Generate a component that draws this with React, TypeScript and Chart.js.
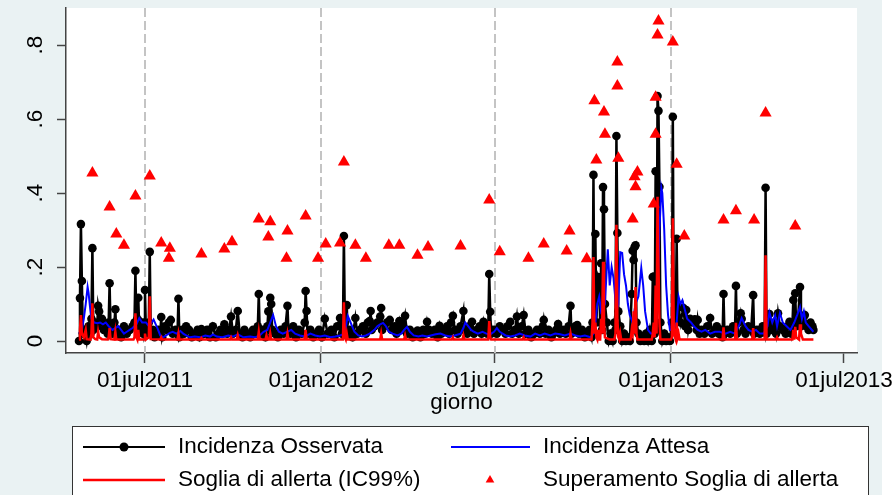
import { useEffect, useRef } from 'react';
import { Chart, registerables } from 'chart.js';

Chart.register(...registerables);

// Day numbers are offsets from BASE_DAY (Stata date: days since 01jan1960)
const BASE_DAY = 18740;
const X_MIN = -13.6;
const X_MAX = 813.6;
const Y_MIN = -0.0324;
const Y_MAX = 0.9;
const xTickDays = [69, 253, 435, 619, 800];
const dashedDays = [69, 253, 435, 619];
const yTicks = [0, 0.2, 0.4, 0.6, 0.8];
const yTickLabels = ['0', '.2', '.4', '.6', '.8'];
const xAxisTitle = 'giorno';
const legendLabels = [
  'Incidenza Osservata',
  'Incidenza Attesa',
  'Soglia di allerta (IC99%)',
  'Superamento Soglia di allerta',
];

const observed: [number, number][] = [
  [0,0],[1,0.116],[2,0.316],[3,0.162],[4,0.02],[6,0.03],[8,0],[10,0.04],[12,0.02],[13,0.06],[14,0.251],[15,0.03],
  [17,0.05],[19,0.04],[20,0.095],[21,0.08],[22,0.05],[24,0.06],[26,0.03],[28,0.04],[30,0.02],[31,0.05],[32,0.156],
  [33,0.03],[35,0.02],[37,0.05],[38,0.086],[39,0.02],[41,0.03],[44,0.01],[47,0.04],[50,0.02],[53,0.03],[56,0.04],
  [58,0.05],[59,0.19],[60,0.04],[61,0.06],[62,0.117],[63,0.03],[65,0.05],[67,0.02],[68,0.05],[69,0.138],[70,0.02],
  [72,0.03],[73,0.05],[74,0.241],[75,0.02],[77,0.03],[79,0.01],[81,0.02],[83,0.03],[85,0.02],[86,0.065],[87,0.01],
  [90,0.04],[92,0.03],[94,0.05],[96,0.057],[98,0.02],[101,0.03],[103,0.02],[104,0.114],[105,0.01],[108,0.03],
  [110,0.02],[112,0.04],[115,0.03],[118,0.01],[121,0.02],[124,0.03],[126,0.01],[128,0.032],[131,0.02],[134,0.03],
  [137,0.01],[140,0.04],[143,0.01],[146,0.02],[148,0.03],[150,0.02],[152,0.045],[155,0.02],[157,0.03],[159,0.066],
  [161,0.02],[164,0.03],[166,0.081],[168,0.02],[171,0.01],[173,0.03],[176,0.02],[179,0.01],[182,0.03],[185,0.02],
  [187,0.04],[188,0.127],[189,0.02],[192,0.03],[195,0.01],[197,0.04],[198,0.08],[199,0.03],[200,0.117],[201,0.1],
  [202,0.03],[205,0.02],[208,0.01],[211,0.03],[214,0.02],[216,0.04],[218,0.095],[219,0.03],[221,0.02],[224,0.04],
  [227,0.01],[230,0.03],[233,0.02],[236,0.05],[237,0.135],[238,0.081],[239,0.02],[242,0.03],[245,0.01],[248,0.02],
  [251,0.03],[254,0.01],[257,0.06],[260,0.02],[264,0.03],[267,0.01],[270,0.04],[273,0.062],[275,0.02],[276,0.03],
  [277,0.284],[278,0.05],[279,0.02],[280,0.097],[281,0.02],[283,0.03],[286,0.01],[289,0.062],[291,0.02],[294,0.03],
  [297,0.04],[300,0.02],[302,0.05],[304,0.054],[305,0.081],[306,0.03],[309,0.04],[312,0.05],[315,0.066],[316,0.089],
  [317,0.03],[319,0.04],[322,0.05],[325,0.057],[327,0.03],[330,0.04],[332,0.02],[335,0.054],[337,0.03],[339,0.04],
  [341,0.068],[343,0.02],[346,0.03],[349,0.01],[351,0.02],[354,0.028],[357,0.01],[360,0.03],[362,0.02],[364,0.052],
  [366,0.03],[369,0.02],[372,0.03],[375,0.01],[377,0.041],[379,0.02],[382,0.03],[385,0.04],[387,0.02],[389,0.05],
  [391,0.068],[393,0.03],[396,0.02],[399,0.04],[402,0.081],[403,0.03],[406,0.02],[408,0.04],[411,0.052],[413,0.02],
  [416,0.03],[419,0.04],[421,0.02],[423,0.052],[425,0.03],[427,0.02],[428,0.04],[429,0.181],[430,0.079],[431,0.02],
  [434,0.03],[437,0.02],[440,0.04],[443,0.03],[446,0.02],[448,0.04],[451,0.052],[453,0.02],[456,0.03],[458,0.066],
  [460,0.02],[463,0.04],[465,0.07],[467,0.02],[470,0.03],[473,0.01],[476,0.02],[479,0.03],[482,0.02],[485,0.04],
  [486,0.057],[488,0.02],[491,0.03],[494,0.01],[496,0.02],[499,0.03],[501,0.046],[503,0.02],[506,0.03],[509,0.02],
  [512,0.04],[514,0.095],[515,0.02],[517,0.03],[519,0.04],[521,0.043],[523,0.02],[526,0.03],[529,0.01],[532,0.02],
  [534,0.03],[536,0.01],[537,0.05],[538,0.449],[539,0.02],[540,0.289],[541,0.05],[543,0.173],[544,0.165],[545,0.05],
  [546,0.21],[547,0.03],[548,0.416],[549,0.356],[550,0.1],[552,0.05],[554,0],[556,0.02],[558,0],[560,0.05],[561,0.03],
  [562,0.554],[563,0.292],[564,0.08],[566,0.04],[568,0],[570,0.02],[572,0],[574,0.01],[576,0],[578,0.127],[579,0.244],
  [580,0.219],[581,0.254],[582,0.259],[583,0.05],[585,0.02],[587,0],[589,0.01],[591,0],[593,0.02],[595,0],[597,0.03],
  [599,0],[600,0.173],[601,0.174],[602,0.02],[603,0.459],[604,0.03],[605,0.662],[606,0.622],[607,0.417],[608,0.05],
  [610,0],[612,0.02],[614,0],[616,0.01],[618,0],[620,0.05],[621,0.606],[622,0.03],[624,0.05],[625,0.276],[626,0.06],
  [627,0.092],[629,0.05],[632,0.089],[634,0.04],[635,0.084],[637,0.03],[639,0.06],[641,0.05],[644,0.059],[646,0.03],
  [647,0.057],[649,0.02],[651,0.03],[654,0.02],[657,0.04],[660,0.062],[662,0.02],[665,0.03],[667,0.04],[669,0.02],
  [672,0.03],[673,0.01],[674,0.127],[675,0.02],[678,0.03],[681,0.02],[684,0.04],[686,0.03],[687,0.149],[688,0.02],
  [690,0.05],[692,0.075],[693,0.06],[695,0.03],[697,0.02],[700,0.04],[703,0.03],[705,0.124],[706,0.02],[709,0.03],
  [712,0.02],[715,0.04],[717,0.03],[718,0.414],[719,0.02],[721,0.04],[722,0.073],[724,0.03],[727,0.05],[729,0.02],
  [731,0.075],[733,0.04],[736,0.03],[739,0.02],[741,0.04],[743,0.052],[745,0.02],[746,0.04],[747,0.111],[748,0.05],
  [749,0.129],[750,0.04],[752,0.06],[754,0.146],[755,0.04],[757,0.05],[759,0.07],[761,0.04],[763,0.03],[765,0.05],
  [767,0.04],[768,0.03],
];

const expected: [number, number][] = [
  [0,0.02],[3,0.03],[5,0.06],[7,0.1],[9,0.146],[10,0.13],[12,0.08],[13,0.06],[16,0.05],[19,0.048],[22,0.05],[25,0.045],
  [28,0.05],[31,0.04],[35,0.03],[38,0.035],[41,0.04],[44,0.03],[47,0.02],[50,0.025],[53,0.03],[56,0.035],[60,0.045],
  [63,0.062],[66,0.05],[70,0.05],[73,0.04],[76,0.05],[78,0.058],[82,0.035],[85,0.015],[88,0.01],[91,0.015],[95,0.022],
  [98,0.025],[102,0.02],[106,0.027],[109,0.02],[112,0.015],[116,0.01],[121,0.012],[127,0.01],[132,0.015],[137,0.012],
  [140,0.018],[144,0.012],[150,0.01],[156,0.015],[161,0.012],[166,0.018],[172,0.01],[179,0.012],[184,0.01],[189,0.015],
  [193,0.025],[197,0.03],[200,0.05],[203,0.07],[206,0.04],[209,0.025],[213,0.02],[218,0.025],[222,0.03],[226,0.02],
  [231,0.015],[236,0.012],[242,0.02],[247,0.015],[252,0.012],[257,0.015],[263,0.01],[268,0.012],[273,0.015],[278,0.02],
  [281,0.068],[284,0.05],[288,0.025],[292,0.015],[296,0.012],[300,0.015],[304,0.02],[309,0.03],[312,0.04],[315,0.045],
  [318,0.049],[321,0.04],[324,0.025],[328,0.02],[333,0.015],[337,0.02],[340,0.03],[343,0.038],[346,0.025],[350,0.015],
  [355,0.012],[359,0.015],[364,0.012],[368,0.015],[373,0.018],[378,0.02],[383,0.015],[388,0.012],[393,0.015],[399,0.02],
  [402,0.035],[404,0.05],[407,0.04],[410,0.03],[413,0.025],[417,0.02],[422,0.025],[426,0.02],[430,0.018],[434,0.025],
  [437,0.035],[440,0.025],[446,0.015],[451,0.012],[456,0.015],[461,0.02],[466,0.015],[472,0.012],[477,0.02],[482,0.015],
  [487,0.02],[493,0.015],[498,0.02],[503,0.018],[508,0.015],[514,0.02],[519,0.015],[524,0.012],[529,0.015],[535,0.01],
  [538,0.02],[540,0.05],[542,0.1],[544,0.12],[546,0.08],[550,0.1],[553,0.248],[555,0.15],[557,0.2],[559,0.17],[562,0.08],
  [564,0.1],[566,0.24],[568,0.238],[570,0.18],[572,0.15],[574,0.1],[576,0.07],[579,0.05],[582,0.1],[585,0.12],[588,0.197],
  [590,0.15],[592,0.08],[595,0.03],[598,0.02],[601,0.02],[603,0.05],[606,0.2],[607,0.3],[609,0.414],[610,0.4],[612,0.3],
  [614,0.15],[616,0.07],[618,0.03],[621,0.03],[625,0.05],[627,0.12],[629,0.1],[631,0.11],[633,0.09],[636,0.06],[640,0.05],
  [643,0.04],[647,0.03],[651,0.025],[655,0.03],[660,0.02],[665,0.025],[670,0.025],[676,0.02],[681,0.025],[686,0.02],
  [690,0.04],[693,0.062],[697,0.04],[700,0.03],[704,0.025],[708,0.03],[712,0.02],[716,0.02],[720,0.04],[722,0.077],
  [725,0.05],[728,0.07],[730,0.04],[733,0.075],[736,0.05],[740,0.04],[744,0.03],[748,0.05],[751,0.07],[754,0.092],
  [756,0.06],[758,0.08],[760,0.05],[763,0.04],[768,0.025],
];

const threshold: [number, number][] = [
  [0,0.004],[1,0.03],[2,0.07],[3,0.02],[5,0.01],[7,0.03],[8,0.005],[12,0.004],[13,0.02],[14,0.102],[15,0.01],[17,0.005],
  [19,0.004],[20,0.025],[21,0.01],[24,0.005],[30,0.004],[31,0.01],[32,0.035],[33,0.005],[37,0.004],[38,0.025],[39,0.004],
  [57,0.004],[58,0.01],[59,0.075],[60,0.01],[61,0.004],[62,0.03],[63,0.004],[68,0.004],[69,0.02],[70,0.004],[73,0.01],
  [74,0.121],[75,0.005],[85,0.004],[86,0.01],[87,0.004],[103,0.004],[104,0.02],[105,0.004],[127,0.004],[128,0.008],
  [129,0.004],[158,0.004],[159,0.01],[160,0.004],[165,0.004],[166,0.015],[167,0.004],[187,0.004],[188,0.025],[189,0.004],
  [195,0.004],[196,0.015],[197,0.004],[199,0.004],[200,0.02],[201,0.004],[217,0.004],[218,0.02],[219,0.004],[236,0.004],
  [237,0.03],[238,0.004],[276,0.004],[277,0.105],[278,0.01],[279,0.004],[280,0.02],[281,0.004],[315,0.004],[316,0.02],
  [317,0.004],[340,0.004],[341,0.015],[342,0.004],[390,0.004],[391,0.01],[392,0.004],[401,0.004],[402,0.015],[403,0.004],
  [428,0.004],[429,0.054],[430,0.01],[431,0.004],[464,0.004],[465,0.01],[466,0.004],[513,0.004],[514,0.02],[515,0.004],
  [536,0.004],[537,0.05],[538,0.227],[539,0.02],[540,0.05],[541,0.01],[542,0.004],[543,0.03],[544,0.004],[545,0.004],
  [546,0.06],[547,0.02],[548,0.214],[549,0.05],[550,0.01],[555,0.004],[560,0.004],[561,0.02],[562,0.314],[563,0.06],
  [564,0.01],[565,0.004],[566,0.02],[567,0.004],[577,0.004],[578,0.03],[579,0.02],[580,0.08],[581,0.02],[582,0.146],
  [583,0.02],[584,0.004],[599,0.004],[600,0.02],[601,0.05],[602,0.01],[603,0.15],[604,0.02],[605,0.39],[606,0.2],
  [607,0.05],[608,0.004],[619,0.004],[620,0.01],[621,0.332],[622,0.02],[624,0.004],[625,0.05],[626,0.01],[627,0.02],
  [628,0.004],[673,0.004],[674,0.037],[675,0.004],[686,0.004],[687,0.049],[688,0.004],[704,0.004],[705,0.035],[706,0.004],
  [717,0.004],[718,0.232],[719,0.004],[729,0.004],[730,0.01],[731,0.004],[746,0.004],[747,0.03],[748,0.004],[749,0.038],
  [750,0.01],[753,0.004],[754,0.045],[755,0.02],[757,0.004],[768,0.004],
];

const exceedance: [number, number][] = [
  [14,0.454],[32,0.362],[39,0.289],[47,0.259],[59,0.392],[74,0.446],[86,0.265],[94,0.224],[95,0.251],[128,0.235],
  [152,0.249],[160,0.268],[188,0.33],[198,0.281],[200,0.322],[217,0.224],[218,0.297],[237,0.338],[250,0.224],[258,0.262],
  [273,0.265],[277,0.484],[289,0.259],[300,0.224],[324,0.259],[335,0.259],[354,0.232],[365,0.254],[399,0.257],[429,0.381],
  [440,0.241],[470,0.224],[486,0.262],[510,0.243],[513,0.297],[531,0.222],[539,0.649],[541,0.489],[549,0.619],[550,0.559],
  [563,0.754],[563,0.689],[564,0.494],[579,0.33],[581,0.444],[582,0.417],[584,0.457],[601,0.37],[603,0.659],[603,0.559],
  [605,0.827],[606,0.865],[621,0.808],[625,0.478],[633,0.284],[674,0.327],[687,0.352],[706,0.327],[718,0.616],[749,0.311],
];

const FONT = '"Liberation Sans", Arial, Helvetica, sans-serif';
const FONT_SIZE = 22.5;
const MONTHS = ['jan','feb','mar','apr','may','jun','jul','aug','sep','oct','nov','dec'];

function fmtDay(off: number): string {
  const d = new Date(Date.UTC(1960, 0, 1) + (BASE_DAY + off) * 86400000);
  const dd = String(d.getUTCDate()).padStart(2, '0');
  return dd + MONTHS[d.getUTCMonth()] + d.getUTCFullYear();
}

const toXY = (arr: [number, number][]) => arr.map(([x, y]) => ({ x, y }));

const decorations = {
  id: 'decorations',
  beforeDraw(chart: any) {
    const { ctx, chartArea: a, width, height } = chart;
    ctx.save();
    ctx.fillStyle = '#ffffff';
    ctx.fillRect(0, 0, width, height);
    ctx.fillStyle = '#eaf2f3';
    ctx.fillRect(0, 0, 882, height);
    ctx.fillStyle = '#ffffff';
    ctx.fillRect(a.left, a.top, a.right - a.left, a.bottom - a.top);
    ctx.restore();
  },
  beforeDatasetsDraw(chart: any) {
    const { ctx, chartArea: a } = chart;
    const xs = chart.scales.x;
    ctx.save();
    ctx.strokeStyle = '#c4c4c4';
    ctx.lineWidth = 2;
    ctx.setLineDash([9, 4]);
    dashedDays.forEach((d) => {
      const px = Math.round(xs.getPixelForValue(d));
      ctx.beginPath();
      ctx.moveTo(px, a.top);
      ctx.lineTo(px, a.bottom);
      ctx.stroke();
    });
    ctx.restore();
  },
  afterDraw(chart: any) {
    const { ctx, chartArea: a } = chart;
    const ys = chart.scales.y;
    ctx.save();
    ctx.fillStyle = '#000';
    ctx.font = `${FONT_SIZE}px ${FONT}`;
    // rotated y tick labels
    yTicks.forEach((v, i) => {
      const py = ys.getPixelForValue(v);
      ctx.save();
      ctx.translate(36, py);
      ctx.rotate(-Math.PI / 2);
      ctx.textAlign = 'center';
      ctx.textBaseline = 'middle';
      ctx.fillText(yTickLabels[i], 0, 0);
      ctx.restore();
    });
    // x axis title
    ctx.textAlign = 'center';
    ctx.textBaseline = 'alphabetic';
    ctx.fillText(xAxisTitle, (a.left + a.right) / 2, 409);

    // legend box
    const bx = 72, by = 426, bw = 796, bh = 90;
    ctx.fillStyle = '#ffffff';
    ctx.fillRect(bx, by, bw, bh);
    ctx.strokeStyle = '#333';
    ctx.lineWidth = 1;
    ctx.strokeRect(bx + 0.5, by + 0.5, bw, bh);

    const r1 = 447, r2 = 480;
    // observed
    ctx.strokeStyle = '#000';
    ctx.lineWidth = 2;
    ctx.beginPath(); ctx.moveTo(83, r1); ctx.lineTo(165, r1); ctx.stroke();
    ctx.fillStyle = '#000';
    ctx.beginPath(); ctx.arc(124, r1, 4.5, 0, Math.PI * 2); ctx.fill();
    // expected
    ctx.strokeStyle = '#0000ff';
    ctx.beginPath(); ctx.moveTo(451, r1); ctx.lineTo(530, r1); ctx.stroke();
    // threshold
    ctx.strokeStyle = '#ff0000';
    ctx.lineWidth = 2.5;
    ctx.beginPath(); ctx.moveTo(83, r2); ctx.lineTo(165, r2); ctx.stroke();
    // exceedance triangle
    ctx.fillStyle = '#ff0000';
    const tr = 5;
    ctx.beginPath();
    ctx.moveTo(490, r2 - tr);
    ctx.lineTo(490 + tr * 0.866, r2 + tr * 0.5);
    ctx.lineTo(490 - tr * 0.866, r2 + tr * 0.5);
    ctx.closePath();
    ctx.fill();

    ctx.fillStyle = '#000';
    ctx.textAlign = 'left';
    ctx.textBaseline = 'middle';
    ctx.fillText(legendLabels[0], 178, r1);
    ctx.fillText(legendLabels[1], 543, r1);
    ctx.fillText(legendLabels[2], 178, r2);
    ctx.fillText(legendLabels[3], 543, r2);
    ctx.restore();
  },
};

export default function App() {
  const ref = useRef<HTMLCanvasElement>(null);
  useEffect(() => {
    document.body.style.margin = '0';
    const canvas = ref.current;
    if (!canvas) return;
    const chart = new Chart(canvas, {
      type: 'line',
      data: {
        datasets: [
          {
            label: legendLabels[3],
            data: toXY(exceedance),
            showLine: false,
            pointStyle: 'triangle',
            pointRadius: 7,
            pointBackgroundColor: '#ff0000',
            pointBorderColor: '#ff0000',
            pointBorderWidth: 0,
            order: 0,
          },
          {
            label: legendLabels[2],
            data: toXY(threshold),
            borderColor: '#ff0000',
            borderWidth: 2.5,
            pointRadius: 0,
            tension: 0,
            order: 1,
          },
          {
            label: legendLabels[1],
            data: toXY(expected),
            borderColor: '#0000ff',
            borderWidth: 2,
            pointRadius: 0,
            tension: 0,
            order: 2,
          },
          {
            label: legendLabels[0],
            data: toXY(observed),
            borderColor: '#000000',
            borderWidth: 2.5,
            pointRadius: 4.3,
            pointBackgroundColor: '#000000',
            pointBorderWidth: 0,
            tension: 0,
            order: 3,
          },
        ] as any,
      },
      options: {
        animation: false,
        responsive: false,
        devicePixelRatio: 1,
        events: [],
        layout: { padding: { left: 0, right: 39, top: 8, bottom: 0 } },
        plugins: { legend: { display: false }, tooltip: { enabled: false }, title: { display: false } },
        scales: {
          x: {
            type: 'linear',
            min: X_MIN,
            max: X_MAX,
            afterBuildTicks: (s: any) => { s.ticks = xTickDays.map((v) => ({ value: v })); },
            afterFit: (s: any) => { s.height = 142; s.paddingLeft = 0; s.paddingRight = 0; },
            ticks: {
              autoSkip: false,
              maxRotation: 0,
              minRotation: 0,
              padding: 4,
              color: '#000',
              font: { family: FONT, size: FONT_SIZE },
              callback: (v: any) => fmtDay(Number(v)),
            },
            grid: { drawOnChartArea: false, drawTicks: true, tickLength: 10, tickColor: '#444', tickWidth: 1.5 },
            border: { display: true, color: '#444', width: 1.5 },
          },
          y: {
            type: 'linear',
            min: Y_MIN,
            max: Y_MAX,
            afterBuildTicks: (s: any) => { s.ticks = yTicks.map((v) => ({ value: v })); },
            afterFit: (s: any) => { s.width = 66; s.paddingTop = 0; s.paddingBottom = 0; },
            ticks: { display: false },
            grid: { drawOnChartArea: false, drawTicks: true, tickLength: 9, tickColor: '#444', tickWidth: 1.5 },
            border: { display: true, color: '#444', width: 1.5 },
          },
        },
      } as any,
      plugins: [decorations],
    });
    return () => chart.destroy();
  }, []);
  return (
    <div style={{ width: 896, height: 495 }}>
      <canvas ref={ref} width={896} height={495} style={{ display: 'block' }} />
    </div>
  );
}
